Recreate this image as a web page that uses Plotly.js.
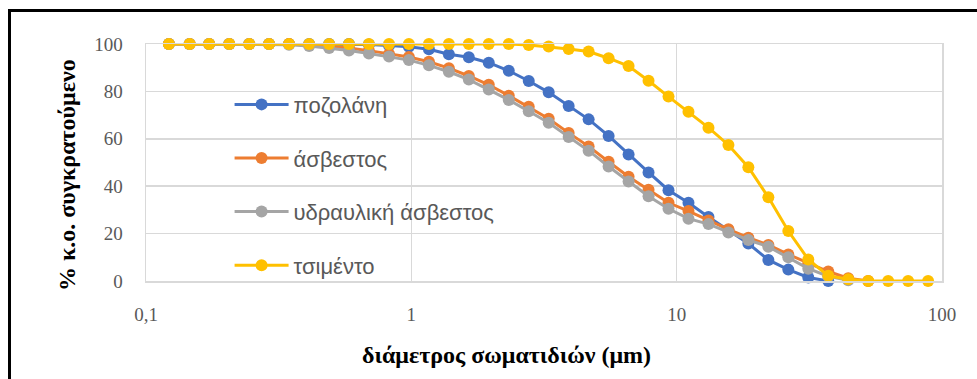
<!DOCTYPE html>
<html>
<head>
<meta charset="utf-8">
<script src="https://cdn.plot.ly/plotly-3.0.1.min.js"></script>
<style>
  html, body { margin: 0; padding: 0; background: #fff; }
  #wrap { position: relative; width: 977px; height: 379px; overflow: hidden; }
  #chart { position: absolute; left: 0; top: 0; width: 977px; height: 379px; }
  #frame { position: absolute; left: 8px; top: 9px; width: 990px; height: 400px;
           border-left: 3px solid #000; border-top: 3px solid #000; pointer-events: none; }
</style>
</head>
<body>
<div id="wrap">
  <div id="chart"></div>
  <div id="frame"></div>
</div>
<script>
// particle diameter (μm), shared by all series
const diameters = [0.122, 0.146, 0.173, 0.206, 0.245, 0.291, 0.346, 0.412, 0.490, 0.582,
  0.692, 0.824, 0.979, 1.165, 1.385, 1.647, 1.958, 2.329, 2.770, 3.294,
  3.917, 4.658, 5.540, 6.588, 7.834, 9.317, 11.08, 13.18, 15.67, 18.63,
  22.16, 26.35, 31.34, 37.27, 44.32, 52.71, 62.68, 74.54, 88.64];

const seriesNames = ['ποζολάνη', 'άσβεστος', 'υδραυλική άσβεστος', 'τσιμέντο'];

const pozzolana = [100, 100, 100, 100, 100, 100, 100, 100, 100, 100,
  99.8, 99.4, 98.8, 97.8, 95.7, 94.4, 92.1, 88.7, 84.4, 79.6,
  73.8, 68.2, 61.2, 53.4, 45.8, 38.3, 33.0, 27.0, 21.5, 15.8,
  8.9, 4.8, 1.5, 0];

const lime = [100, 100, 100, 100, 100, 100, 100, 99.6, 99.0, 98.3,
  97.2, 95.8, 94.5, 92.5, 89.8, 86.5, 82.8, 78.2, 73.5, 68.5,
  62.5, 56.8, 50.3, 44.0, 38.5, 33.0, 29.5, 25.5, 21.8, 18.3,
  15.2, 11.2, 7.5, 4.0, 1.2, 0];

const hydraulicLime = [100, 100, 100, 100, 100, 100, 99.7, 99.2, 98.3, 97.3,
  96.0, 94.7, 93.2, 91.0, 88.3, 85.0, 80.8, 76.4, 71.6, 66.8,
  60.8, 55.0, 48.3, 42.0, 35.8, 30.5, 26.3, 24.0, 20.5, 17.3,
  14.5, 10.0, 5.2, 2.0, 0.3];

const cement = [100, 100, 100, 100, 100, 100, 100, 100, 100, 100,
  100, 100, 100, 100, 100, 100, 100, 100, 99.6, 98.9,
  97.9, 96.8, 94.0, 90.7, 84.5, 77.8, 71.4, 64.7, 57.4, 48.0,
  35.3, 21.1, 9.1, 2.2, 0.7, 0, 0, 0, 0];

const xTitle = 'διάμετρος σωματιδιών (μm)';
const yTitle = '% κ.ο. συγκρατούμενο';

const colors = ['#4472C4', '#ED7D31', '#A5A5A5', '#FFC000'];
const values = [pozzolana, lime, hydraulicLime, cement];

const xTickVals = [0.1, 1, 10, 100];
const xTickText = ['0,1', '1', '10', '100'];
const yTickVals = [0, 20, 40, 60, 80, 100];

const traces = values.map((v, k) => ({
  type: 'scatter',
  mode: 'lines+markers',
  name: seriesNames[k],
  legendgroup: 'g' + k,
  x: diameters.slice(0, v.length),
  y: v,
  line: { color: colors[k], width: 3 },
  marker: { color: colors[k], size: 12 },
  cliponaxis: false
}));

const gridColor = '#D9D9D9';
const serif = 'Liberation Serif, Times New Roman, serif';
const layout = {
  width: 977,
  height: 379,
  paper_bgcolor: '#fff',
  plot_bgcolor: '#fff',
  margin: { l: 146, r: 35, t: 44, b: 98 },
  showlegend: true,
  legend: {
    x: 0.105, y: 0.833, xanchor: 'left', yanchor: 'top',
    bgcolor: 'rgba(0,0,0,0)',
    font: { family: 'Liberation Sans, Arial, sans-serif', size: 22, color: '#595959' },
    traceorder: 'grouped',
    tracegroupgap: 22,
    itemwidth: 54
  },
  xaxis: {
    type: 'log',
    range: [-1, 2],
    tickvals: xTickVals,
    ticktext: xTickText,
    showgrid: true,
    gridcolor: gridColor,
    gridwidth: 1.5,
    showline: true,
    linecolor: gridColor,
    linewidth: 1.5,
    mirror: true,
    zeroline: false,
    ticks: '',
    ticklabelstandoff: 16,
    tickfont: { family: serif, size: 19, color: '#595959' }
  },
  yaxis: {
    range: [0, 100],
    tickvals: yTickVals,
    showgrid: true,
    gridcolor: gridColor,
    gridwidth: 1.5,
    showline: true,
    linecolor: gridColor,
    linewidth: 1.5,
    mirror: true,
    zeroline: false,
    ticks: '',
    ticklabelstandoff: 18,
    tickfont: { family: serif, size: 19, color: '#595959' }
  },
  annotations: [
    {
      text: '<b>' + xTitle + '</b>',
      xref: 'paper', yref: 'paper',
      x: 0.4535, y: -0.312, xanchor: 'center', yanchor: 'middle',
      showarrow: false,
      font: { family: serif, size: 24, color: '#000' }
    },
    {
      text: '<b>' + yTitle + '</b>',
      xref: 'paper', yref: 'paper',
      x: -0.0992, y: 0.447, xanchor: 'center', yanchor: 'middle',
      textangle: -90,
      showarrow: false,
      font: { family: serif, size: 24, color: '#000' }
    }
  ]
};

Plotly.newPlot('chart', traces, layout, { displayModeBar: false, staticPlot: true });
</script>
</body>
</html>
